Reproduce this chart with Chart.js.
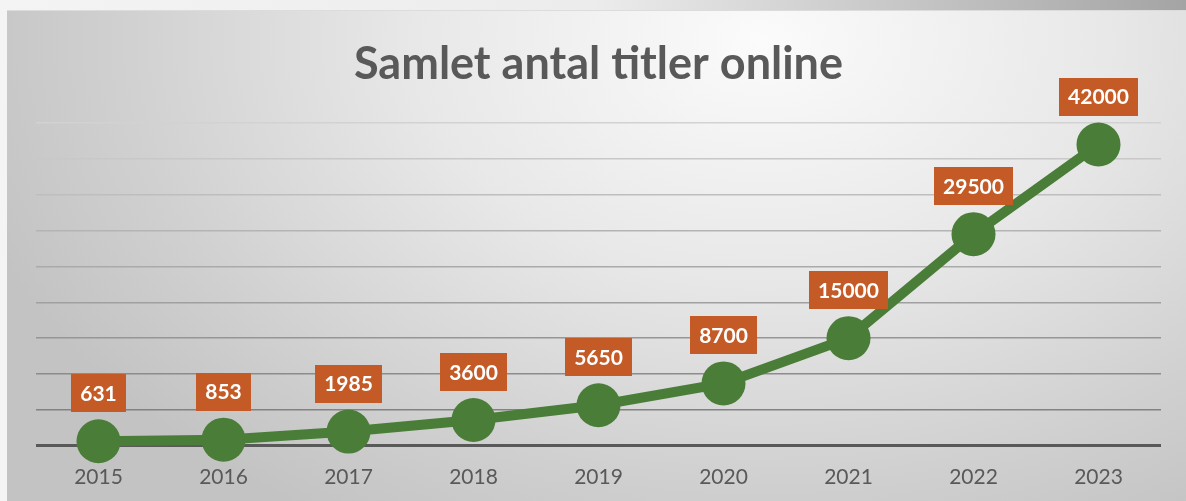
<!DOCTYPE html>
<html>
<head>
<meta charset="utf-8">
<script src="https://cdn.jsdelivr.net/npm/chart.js@4"></script>
<style>
    html, body {
        margin: 0;
        padding: 0;
        width: 1186px;
        height: 501px;
        overflow: hidden;
        background: linear-gradient(to right, #f4f4f4 0%, #ececec 50%, #a4a4a4 100%);
    }
    #panel {
        position: absolute;
        left: 7px;
        top: 10px;
        width: 1179px;
        height: 491px;
        border-top: 1px solid #dcdcdc;
        box-sizing: border-box;
        background: radial-gradient(ellipse 70% 115% at 64% 6%, #fbfbfb 0%, #e8e8e8 42%, #d0d0d0 78%, #c3c3c3 100%);
    }
    #chart {
        display: block;
    }
</style>
</head>
<body>
<div id="panel"><canvas id="chart"></canvas></div>
<script>
const years = ['2015', '2016', '2017', '2018', '2019', '2020', '2021', '2022', '2023'];
const titles = [631, 853, 1985, 3600, 5650, 8700, 15000, 29500, 42000];
const yMax = 45000;
const yStep = 5000;

// value boxes above each point
const boxLabels = {
    id: 'boxLabels',
    afterDatasetsDraw(chart) {
        const ctx = chart.ctx;
        const meta = chart.getDatasetMeta(0);
        ctx.save();
        ctx.font = 'bold 21px Lato';
        ctx.textAlign = 'center';
        ctx.textBaseline = 'middle';
        meta.data.forEach((pt, i) => {
            const text = String(titles[i]);
            const w = ctx.measureText(text).width + 18;
            const h = 38;
            const bottom = pt.y - 29;
            ctx.fillStyle = '#c45a25';
            ctx.fillRect(Math.round(pt.x - w / 2), Math.round(bottom - h), Math.round(w), h);
            ctx.fillStyle = '#ffffff';
            ctx.fillText(text, pt.x, bottom - h / 2 + 1);
        });
        ctx.restore();
    }
};

new Chart(document.getElementById('chart'), {
    type: 'line',
    data: {
        labels: years,
        datasets: [{
            data: titles,
            borderColor: '#4a7d38',
            backgroundColor: '#4a7d38',
            borderWidth: 10,
            pointRadius: 22,
            pointHoverRadius: 22,
            pointBorderWidth: 0,
            tension: 0,
            clip: false
        }]
    },
    options: {
        responsive: true,
        maintainAspectRatio: false,
        animation: false,
        layout: {
            padding: { left: 29, right: 25, top: 0, bottom: 0 }
        },
        plugins: {
            legend: { display: false },
            tooltip: { enabled: false },
            title: {
                display: true,
                text: 'Samlet antal titler online',
                color: '#595959',
                font: { family: 'Lato', size: 45, weight: 'bold', lineHeight: 1.2 },
                padding: { top: 26, bottom: 32 }
            }
        },
        scales: {
            x: {
                offset: true,
                grid: { display: false },
                border: { display: false },
                ticks: {
                    color: '#595959',
                    font: { family: 'Lato', size: 21 },
                    padding: 11
                }
            },
            y: {
                min: 0,
                max: yMax,
                border: { display: false },
                grid: {
                    drawTicks: false,
                    color: (c) => {
                        if (c.tick.value === 0) return '#595959';
                        const t = c.tick.value / yMax;
                        const v = Math.round(120 + t * 90);
                        return 'rgb(' + v + ',' + v + ',' + v + ')';
                    },
                    lineWidth: (c) => c.tick.value === 0 ? 3 : 1.5
                },
                ticks: { display: false, stepSize: yStep }
            }
        }
    },
    plugins: [boxLabels]
});
</script>
</body>
</html>
